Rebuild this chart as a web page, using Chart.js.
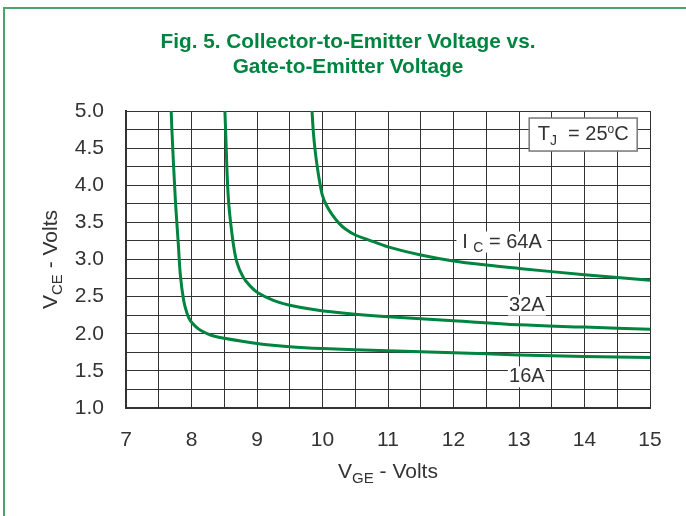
<!DOCTYPE html>
<html>
<head>
<meta charset="utf-8">
<script src="https://cdn.jsdelivr.net/npm/chart.js"></script>
<style>
  html, body { margin: 0; padding: 0; background: #fff; }
  #wrap { position: relative; width: 686px; height: 516px; overflow: hidden; }
  #frame { position: absolute; left: 3px; top: 7px; width: 720px; height: 600px; border: 2px solid #4aa36a; }
  #chart { position: absolute; left: 0; top: 0; }
</style>
</head>
<body>
<div id="wrap">
  <div id="frame"></div>
  <canvas id="chart" width="686" height="516"></canvas>
</div>
<script>
// ---- data ----
const vge16 = [7.69, 7.70, 7.75, 7.80, 7.83, 7.88, 7.93, 7.98, 8.06, 8.15, 8.30, 8.50, 9.0, 9.5, 10, 11, 12, 13, 14, 15];
const vce16 = [5.0, 4.76, 3.86, 3.19, 2.79, 2.45, 2.28, 2.18, 2.10, 2.04, 1.98, 1.94, 1.87, 1.825, 1.80, 1.77, 1.745, 1.715, 1.695, 1.68];

const vge32 = [8.51, 8.52, 8.56, 8.62, 8.69, 8.79, 8.90, 9.0, 9.25, 9.5, 9.91, 10.42, 11, 12, 13, 14, 15];
const vce32 = [5.0, 4.76, 3.86, 3.33, 2.97, 2.76, 2.64, 2.56, 2.45, 2.385, 2.32, 2.27, 2.23, 2.175, 2.12, 2.09, 2.06];

const vge64 = [9.84, 9.86, 9.89, 9.92, 9.95, 10.0, 10.06, 10.15, 10.25, 10.35, 10.5, 10.7, 11, 11.5, 12, 12.5, 13, 14, 15];
const vce64 = [5.0, 4.72, 4.45, 4.25, 4.08, 3.86, 3.73, 3.60, 3.49, 3.41, 3.33, 3.265, 3.17, 3.06, 2.98, 2.925, 2.88, 2.795, 2.72];

const xTicks = [7, 8, 9, 10, 11, 12, 13, 14, 15];
const yTicks = [1.0, 1.5, 2.0, 2.5, 3.0, 3.5, 4.0, 4.5, 5.0];

const GREEN = '#00843f';
const INK = '#333';
const FONT = "'Liberation Sans', Arial, sans-serif";

function pts(xs, ys) {
  return xs.map((x, i) => ({ x: x, y: ys[i] }));
}

function curve(xs, ys) {
  return {
    data: pts(xs, ys),
    showLine: true,
    borderColor: GREEN,
    borderWidth: 3,
    pointRadius: 0,
    tension: 0.35,
    clip: 2
  };
}

// draw text made of parts: [text, 'sub' | 'sup' | '']
function partsFont(p, size) {
  const s = p[1] === 'sup' ? Math.round(size * 0.6) : p[1] ? Math.round(size * 0.7) : size;
  return s + 'px ' + FONT;
}

function drawParts(ctx, parts, cx, cy, size) {
  let w = 0;
  parts.forEach(p => { ctx.font = partsFont(p, size); w += ctx.measureText(p[0]).width; });
  let x = cx - w / 2;
  ctx.textBaseline = 'middle';
  ctx.textAlign = 'left';
  parts.forEach(p => {
    let dy = 0;
    if (p[1] === 'sub') dy = size * 0.32;
    if (p[1] === 'sup') dy = -size * 0.22;
    ctx.font = partsFont(p, size);
    ctx.fillText(p[0], x, cy + dy);
    x += ctx.measureText(p[0]).width;
  });
}

function labelBox(ctx, chart, parts, xv, yv, w, h, border) {
  const cx = chart.scales.x.getPixelForValue(xv);
  const cy = chart.scales.y.getPixelForValue(yv);
  ctx.fillStyle = '#fff';
  ctx.fillRect(cx - w / 2, cy - h / 2, w, h);
  if (border) {
    ctx.strokeStyle = '#777';
    ctx.lineWidth = 1.5;
    ctx.strokeRect(cx - w / 2, cy - h / 2, w, h);
  }
  ctx.fillStyle = INK;
  drawParts(ctx, parts, cx, cy, 20);
}

const decor = {
  id: 'decor',
  beforeDatasetsDraw(chart) {
    const ctx = chart.ctx;
    ctx.save();
    labelBox(ctx, chart, [['I ', ''], ['C', 'sub'], [' = 64A', '']], 12.74, 3.235, 91, 21, false);
    labelBox(ctx, chart, [['32A', '']], 13.12, 2.385, 38, 21, false);
    labelBox(ctx, chart, [['16A', '']], 13.12, 1.42, 38, 21, false);
    ctx.restore();
  },
  afterDraw(chart) {
    const ctx = chart.ctx;
    ctx.save();
    // temperature box
    labelBox(ctx, chart, [['T', ''], ['J', 'sub'], ['  = 25', ''], ['o', 'sup'], ['C', '']], 13.98, 4.683, 108, 33, true);

    // title
    ctx.fillStyle = GREEN;
    ctx.textAlign = 'center';
    ctx.textBaseline = 'alphabetic';
    ctx.font = "bold 21px 'Liberation Sans Narrow', 'Liberation Sans', Arial, sans-serif";
    const l1 = 'Fig. 5. Collector-to-Emitter Voltage vs.';
    const l2 = 'Gate-to-Emitter Voltage';
    const k = 375 / ctx.measureText(l1).width;
    [[l1, 48], [l2, 73]].forEach(t => {
      ctx.save();
      ctx.translate(348, t[1]);
      ctx.scale(k, 1);
      ctx.fillText(t[0], 0, 0);
      ctx.restore();
    });

    // axis titles
    ctx.fillStyle = INK;
    const a = chart.chartArea;
    drawParts(ctx, [['V', ''], ['GE', 'sub'], [' - Volts', '']], (a.left + a.right) / 2, 472, 21);
    ctx.save();
    ctx.translate(51, (a.top + a.bottom) / 2);
    ctx.rotate(-Math.PI / 2);
    drawParts(ctx, [['V', ''], ['CE', 'sub'], [' - Volts', '']], 0, 0, 21);
    ctx.restore();
    ctx.restore();
  }
};

new Chart(document.getElementById('chart'), {
  type: 'scatter',
  data: {
    datasets: [curve(vge16, vce16), curve(vge32, vce32), curve(vge64, vce64)]
  },
  options: {
    responsive: false,
    animation: false,
    devicePixelRatio: 1,
    layout: { padding: { top: 111, right: 36, left: 0, bottom: 0 } },
    plugins: { legend: { display: false }, tooltip: { enabled: false }, title: { display: false } },
    scales: {
      x: {
        type: 'linear',
        min: 7, max: 15,
        afterFit(s) { s.height = 108; },
        afterBuildTicks(s) {
          const t = [];
          for (let v = 7; v <= 15.001; v += 0.5) t.push({ value: +v.toFixed(1) });
          s.ticks = t;
        },
        grid: { color: INK, lineWidth: 1, drawTicks: false },
        border: { color: INK, width: 2 },
        ticks: {
          padding: 20,
          color: INK,
          font: { family: FONT, size: 21 },
          maxRotation: 0,
          autoSkip: false,
          callback: v => xTicks.includes(v) ? String(v) : ''
        }
      },
      y: {
        type: 'linear',
        min: 1, max: 5,
        afterFit(s) { s.width = 126; },
        afterBuildTicks(s) {
          const t = [];
          for (let v = 1; v <= 5.001; v += 0.25) t.push({ value: +v.toFixed(2) });
          s.ticks = t;
        },
        grid: { color: INK, lineWidth: 1, drawTicks: false },
        border: { color: INK, width: 2 },
        ticks: {
          padding: 22,
          color: INK,
          font: { family: FONT, size: 21 },
          autoSkip: false,
          callback: v => yTicks.includes(v) ? v.toFixed(1) : ''
        }
      }
    }
  },
  plugins: [decor]
});
</script>
</body>
</html>
